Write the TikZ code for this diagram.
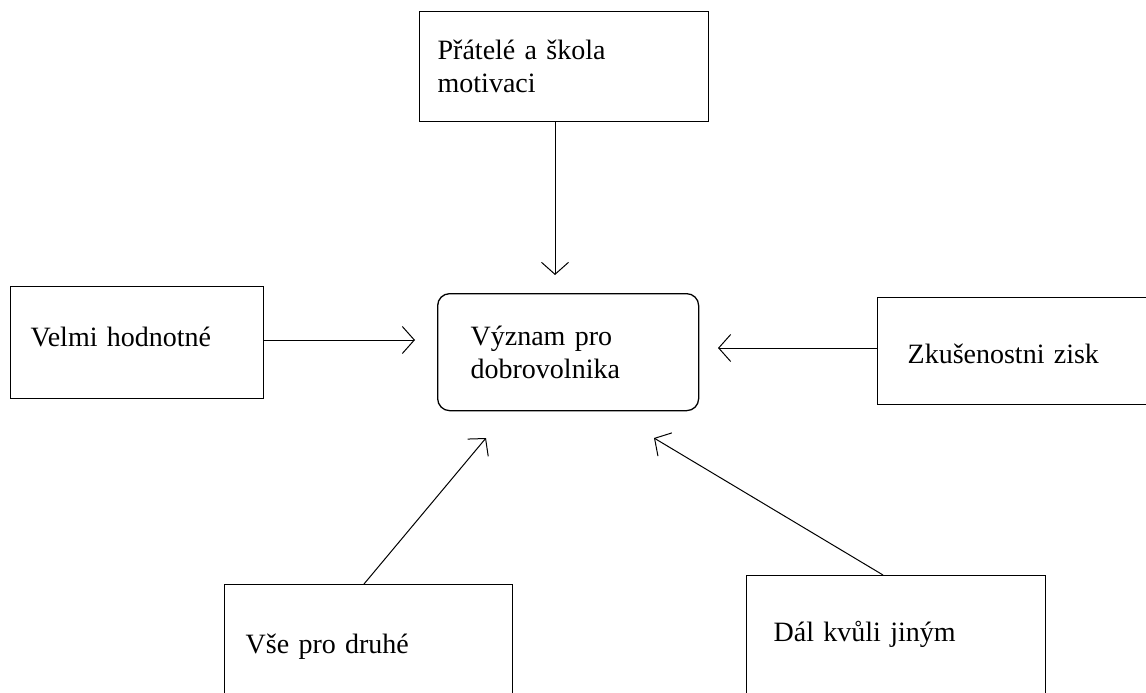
\documentclass[tikz,border=0pt]{standalone}
\usepackage{fontspec}
\setmainfont{Liberation Serif}
\usepackage{tikz}
\usetikzlibrary{arrows.meta, calc, positioning}

\tikzset{
    topic/.style={draw, rectangle, line width=1.3pt, anchor=north west, align=left,
        inner ysep=0pt, font=\fontsize{28}{33}\selectfont},
    link/.style={line width=1pt, -{Straight Barb[length=12pt, width=27pt, line width=1pt]}}
}

\begin{document}
\begin{tikzpicture}[x=1pt, y=-1pt]
    \useasboundingbox (0,0) rectangle (1146,693);
    \clip (0,0) rectangle (1146,693);

    % Central node
    \node[topic, rounded corners=12pt, inner xsep=33pt, text width=195pt, minimum height=117pt]
        (vyznam) at (437,293) {Význam pro\\dobrovolnika};

    % Surrounding nodes
    \node[topic, inner xsep=18pt, text width=253pt, minimum height=110pt]
        (pratele) at (419,11) {Přátelé a škola\\motivaci};
    \node[topic, inner xsep=20pt, text width=213pt, minimum height=112pt, text depth=12pt]
        (hodnotne) at (10,286) {Velmi hodnotné};
    \node[topic, inner xsep=30pt, text width=260pt, minimum height=107pt, text height=24pt]
        (zisk) at (877,297) {Zkušenostni zisk};
    \node[topic, inner xsep=21pt, text width=246pt, minimum height=124pt]
        (druhe) at (224,584) {Vše pro druhé};
    \node[topic, inner xsep=27pt, text width=245pt, minimum height=118pt]
        (jinym) at (746,575) {Dál kvůli jiným};

    % Arrow tips stop short of the central node
    \coordinate (tipN) at (555,275);
    \coordinate (tipW) at (415,340);
    \coordinate (tipE) at (718,348);
    \coordinate (tipSW) at (486,438);
    \coordinate (tipSE) at (654,438);

    \draw[link] (pratele.south -| tipN) -- (tipN);
    \draw[link] (hodnotne.east |- tipW) -- (tipW);
    \draw[link] (zisk.west |- tipE) -- (tipE);
    \draw[link] ([xshift=140pt]druhe.north west) -- (tipSW);
    \draw[link] ([xshift=137pt]jinym.north west) -- (tipSE);
\end{tikzpicture}
\end{document}
